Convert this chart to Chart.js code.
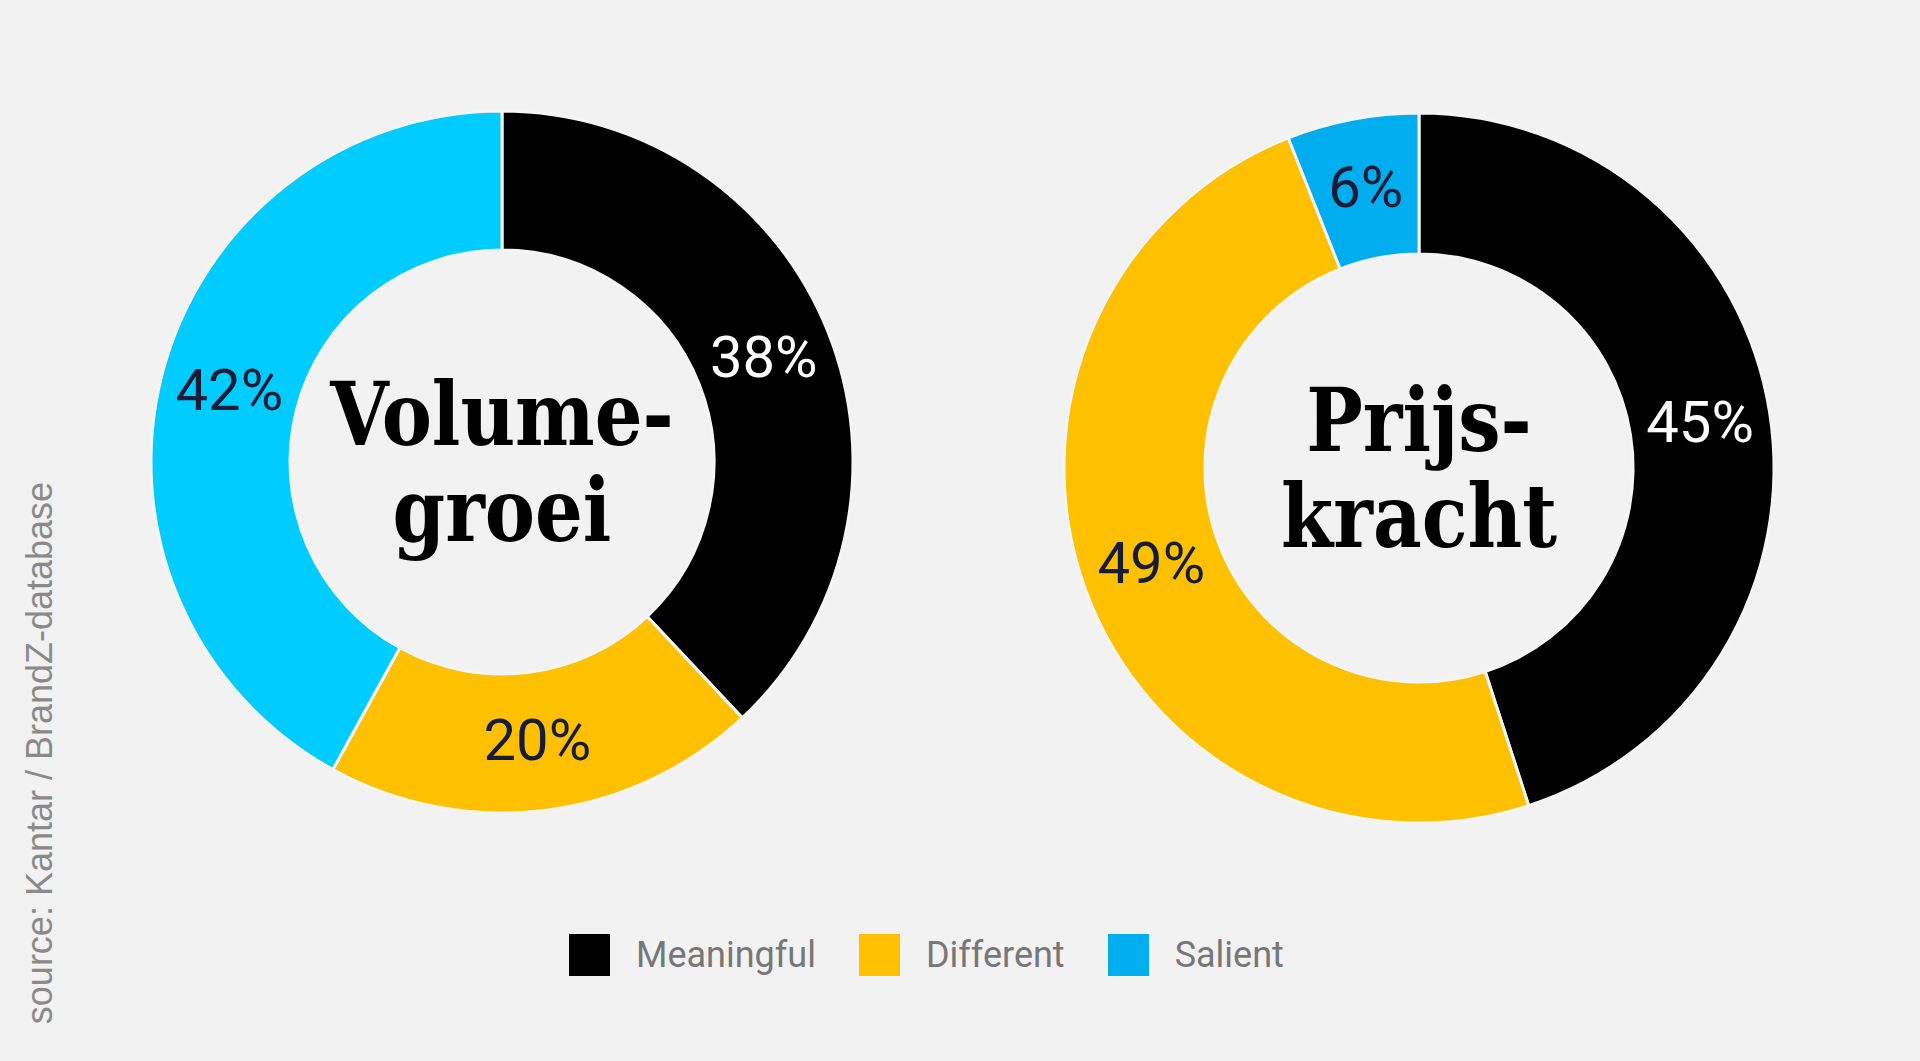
<!DOCTYPE html>
<html>
<head>
<meta charset="utf-8">
<script src="https://cdn.jsdelivr.net/npm/chart.js@4.4.1/dist/chart.umd.min.js"></script>
<style>
  html, body { margin:0; padding:0; background:#F2F2F2; width:1920px; height:1061px; overflow:hidden; }
  .wrap { position:absolute; }
  #src { position:absolute; left:40px; top:753px; transform:translate(-50%,-50%) rotate(-90deg);
         font-family:"Liberation Sans", Arial, sans-serif; font-size:36px; color:#8a8a8a; white-space:nowrap; }
  #legend { position:absolute; left:569px; top:934px; display:flex; align-items:center; height:42px;
            font-family:Roboto, sans-serif; font-size:36px; color:#777; }
  #legend .item { display:flex; align-items:center; margin-right:43px; }
  #legend .box { width:41px; height:42px; margin-right:26px; }
</style>
</head>
<body>
<div class="wrap" style="left:132px;top:92px;width:740px;height:740px;"><canvas id="c1"></canvas></div>
<div class="wrap" style="left:1049px;top:98px;width:740px;height:740px;"><canvas id="c2"></canvas></div>
<div id="legend"></div>
<div id="src"></div>
<script>
// ---- data ----
const categories = ["Meaningful", "Different", "Salient"];
const volumeValues = [38, 20, 42];
const prijsValues = [45, 49, 6];
const volumeTitle = ["Volume-", "groei"];
const prijsTitle = ["Prijs-", "kracht"];
const volumeColors = ["#000000", "#FFC000", "#00CCFF"];
const prijsColors = ["#000000", "#FFC000", "#00AEEF"];
const legendColors = ["#000000", "#FFC000", "#00AEEF"];
const volumeLabelColors = ["#ffffff", "#161b36", "#161b36"];
const prijsLabelColors = ["#ffffff", "#161b36", "#161b36"];
const sourceText = "source: Kantar / BrandZ-database";

const labelPlugin = {
  id: 'sliceLabels',
  afterDatasetsDraw(chart, args, opts) {
    const ctx = chart.ctx;
    const meta = chart.getDatasetMeta(0);
    const ds = chart.data.datasets[0];
    ctx.save();
    ctx.font = '400 58px Roboto, sans-serif';
    ctx.textAlign = 'center';
    ctx.textBaseline = 'middle';
    meta.data.forEach((arc, i) => {
      const p = arc.tooltipPosition();
      ctx.fillStyle = opts.colors[i];
      ctx.fillText(ds.data[i] + '%', p.x, p.y + 4);
    });
    // center title
    const a0 = meta.data[0];
    const cx = a0.x, cy = a0.y;
    ctx.fillStyle = '#000';
    ctx.font = 'bold 88px "DejaVu Serif", serif';
    ctx.textBaseline = 'alphabetic';
    const lines = opts.title;
    const offs = [-17, 79];
    lines.forEach((t, k) => {
      ctx.save();
      ctx.translate(cx, cy + offs[k]);
      ctx.scale(0.855, 1);
      ctx.fillText(t, 0, 0);
      ctx.restore();
    });
    ctx.restore();
  }
};

function makeChart(id, values, colors, labelColors, title, radius, cutout) {
  return new Chart(document.getElementById(id), {
    type: 'doughnut',
    data: {
      labels: categories,
      datasets: [{ data: values, backgroundColor: colors, borderColor: '#F4F4F4', borderWidth: 3, hoverOffset: 0 }]
    },
    options: {
      responsive: true, maintainAspectRatio: false, animation: false,
      radius: radius, cutout: cutout,
      layout: { padding: 0 },
      plugins: {
        legend: { display: false }, tooltip: { enabled: false },
        sliceLabels: { colors: labelColors, title: title }
      }
    },
    plugins: [labelPlugin]
  });
}

makeChart('c1', volumeValues, volumeColors, volumeLabelColors, volumeTitle, 351, '60.4%');
makeChart('c2', prijsValues, prijsColors, prijsLabelColors, prijsTitle, 355, '60.3%');

const lg = document.getElementById('legend');
categories.forEach((c, i) => {
  const it = document.createElement('div'); it.className = 'item';
  const b = document.createElement('div'); b.className = 'box'; b.style.background = legendColors[i];
  const s = document.createElement('span'); s.textContent = c;
  it.appendChild(b); it.appendChild(s); lg.appendChild(it);
});
document.getElementById('src').textContent = sourceText;
</script>
</body>
</html>
